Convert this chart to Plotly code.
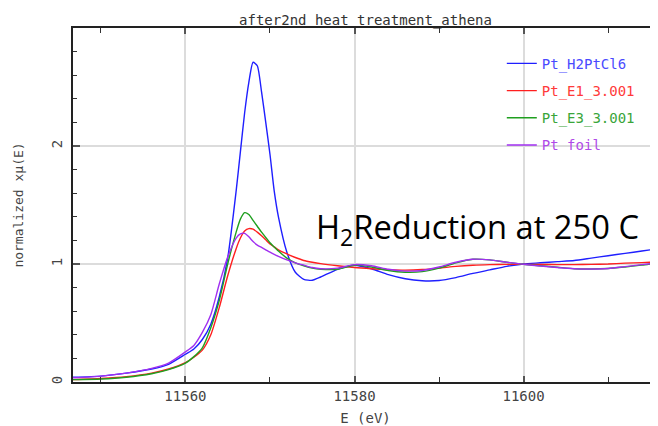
import plotly.graph_objects as go

# Energy grid (eV)
energy = [11546.5, 11550, 11553, 11556, 11558, 11560, 11561, 11562, 11563, 11564,
          11565, 11566, 11566.5, 11567, 11567.5, 11568, 11568.5, 11569, 11569.5, 11570,
          11570.5, 11571, 11572, 11573, 11574, 11575, 11576, 11578, 11580, 11582,
          11584, 11586, 11588, 11590, 11592, 11594, 11596, 11598, 11600, 11602,
          11604, 11606, 11608, 11610, 11612, 11614, 11616]

pt_h2ptcl6 = [0.04, 0.05, 0.075, 0.11, 0.15, 0.235, 0.28, 0.36, 0.49, 0.72,
              1.05, 1.62, 1.95, 2.28, 2.54, 2.71, 2.68, 2.46, 2.20, 1.93,
              1.62, 1.40, 1.10, 0.93, 0.87, 0.862, 0.89, 0.955, 0.99, 0.96,
              0.91, 0.875, 0.858, 0.86, 0.885, 0.92, 0.95, 0.98, 1.0, 1.01,
              1.02, 1.03, 1.05, 1.07, 1.09, 1.11, 1.13]

pt_e1 = [0.02, 0.03, 0.045, 0.075, 0.11, 0.165, 0.21, 0.27, 0.40, 0.63,
         0.90, 1.13, 1.22, 1.28, 1.30, 1.295, 1.27, 1.24, 1.205, 1.17,
         1.145, 1.12, 1.085, 1.055, 1.03, 1.015, 1.003, 0.985, 0.97, 0.96,
         0.952, 0.948, 0.953, 0.965, 0.98, 0.99, 0.995, 0.997, 0.997, 0.996,
         0.995, 0.995, 0.997, 1.0, 1.007, 1.012, 1.017]

pt_e3 = [0.02, 0.025, 0.04, 0.07, 0.105, 0.16, 0.215, 0.29, 0.46, 0.69,
         1.0, 1.27, 1.38, 1.435, 1.42, 1.37, 1.32, 1.27, 1.225, 1.18,
         1.145, 1.11, 1.05, 1.01, 0.985, 0.965, 0.955, 0.955, 0.99, 0.975,
         0.945, 0.93, 0.935, 0.965, 1.01, 1.04, 1.035, 1.015, 0.997, 0.985,
         0.973, 0.96, 0.958, 0.962, 0.975, 0.99, 1.01]

pt_foil = [0.035, 0.05, 0.075, 0.115, 0.16, 0.255, 0.31, 0.42, 0.57, 0.83,
           1.06, 1.22, 1.255, 1.26, 1.23, 1.19, 1.16, 1.14, 1.12, 1.10,
           1.082, 1.065, 1.035, 1.01, 0.99, 0.97, 0.96, 0.965, 0.995, 0.985,
           0.955, 0.94, 0.945, 0.975, 1.015, 1.04, 1.035, 1.015, 0.997, 0.983,
           0.97, 0.96, 0.958, 0.962, 0.978, 0.995, 1.01]

series_names = ["Pt_H2PtCl6", "Pt_E1_3.001", "Pt_E3_3.001", "Pt foil"]
series_values = [pt_h2ptcl6, pt_e1, pt_e3, pt_foil]
line_colors = ["#1f1fff", "#ff1f1f", "#1f9f1f", "#a02ff0"]
text_colors = ["#4a4aff", "#ff3a3a", "#3aa53a", "#b04ae8"]

x_ticks = [11560, 11580, 11600]
y_ticks = [0, 1, 2]

mono = "DejaVu Sans Mono"

fig = go.Figure()
for i, (name, vals) in enumerate(zip(series_names, series_values)):
    fig.add_trace(go.Scatter(
        x=energy, y=vals, mode="lines",
        name=f"<span style='color:{text_colors[i]}'>{name}</span>",
        legendgroup=f"g{i}",
        line=dict(color=line_colors[i], width=1.4, shape="spline", smoothing=0.6),
    ))

# page body has an 8px default margin, so the figure is sized to fit the window
fig.update_layout(
    width=650, height=418,
    margin=dict(l=65, r=0, t=20, b=44, autoexpand=False),
    plot_bgcolor="white", paper_bgcolor="white",
    title=dict(text="after2nd heat treatment_athena", x=0.5, xref="paper",
               xanchor="center", y=0.972, yanchor="middle", yref="container",
               automargin=False,
               font=dict(family=mono, size=14, color="#333333")),
    legend=dict(x=0.733, y=0.944, xanchor="left", yanchor="top",
                bgcolor="rgba(0,0,0,0)", tracegroupgap=6,
                font=dict(family=mono, size=14)),
    xaxis=dict(range=[11546.7, 11615.9], tickvals=x_ticks,
               ticktext=[str(v) for v in x_ticks], automargin=False,
               showline=True, linecolor="#222222", linewidth=1.5, mirror="ticks",
               ticks="inside", ticklen=6, tickwidth=1.5, tickcolor="#555555",
               minor=dict(dtick=10, tick0=11550, ticks="inside", ticklen=5,
                          tickcolor="#333333", tickwidth=1, showgrid=False),
               showgrid=True, gridcolor="#dcdcdc", gridwidth=1.5, zeroline=False,
               tickfont=dict(family=mono, size=14, color="#444444"),
               title=dict(text="E (eV)", font=dict(family=mono, size=14, color="#444444"),
                          standoff=13)),
    yaxis=dict(range=[0, 3], tickvals=y_ticks, automargin=False,
               showline=True, linecolor="#222222", linewidth=1.5, mirror=False,
               ticks="inside", ticklen=7, tickwidth=1.5, tickcolor="#555555",
               minor=dict(dtick=0.2, tick0=0, ticks="inside", ticklen=4,
                          tickcolor="#333333", tickwidth=1, showgrid=False),
               showgrid=True, gridcolor="#dcdcdc", gridwidth=1.5, zeroline=False,
               tickangle=-90, ticklabelstandoff=4,
               tickfont=dict(family=mono, size=14, color="#444444"),
               title=dict(text="normalized xμ(E)",
                          font=dict(family=mono, size=13, color="#444444"),
                          standoff=22)),
)

fig.add_annotation(
    text="H<sub>2</sub>Reduction at 250 C", xref="paper", yref="paper",
    x=0.691, y=0.435, xanchor="center", yanchor="middle", showarrow=False,
    font=dict(family="Open Sans", size=32.7, color="#000000"),
)

fig.write_html("out.html")
